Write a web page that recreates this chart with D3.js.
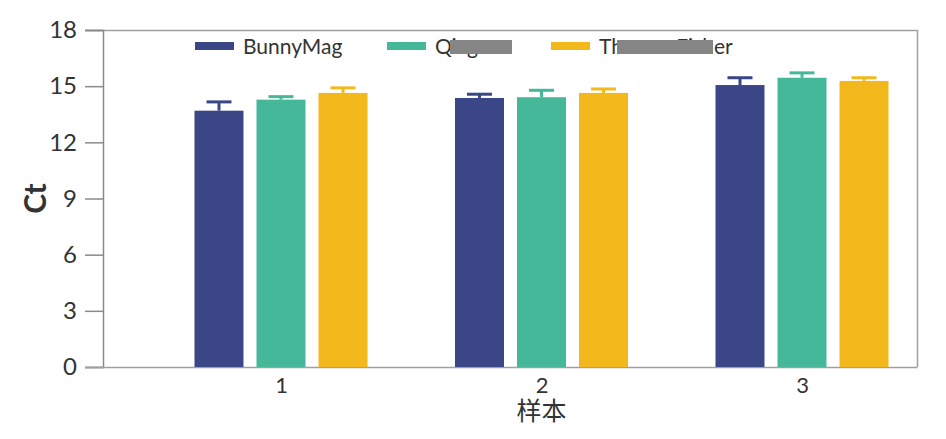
<!DOCTYPE html>
<html>
<head>
<meta charset="utf-8">
<script src="https://cdn.jsdelivr.net/npm/d3@7"></script>
<style>
    body { margin: 0; background: #fff; }
    text { font-family: Lato, "Noto Sans CJK SC", sans-serif; fill: #333; }
</style>
</head>
<body>
<div id="chart"></div>
<script>
// data
const categories = ["1", "2", "3"];
const seriesNames = ["BunnyMag", "Qiagen", "Thermo Fisher"];
const bunnyMag = [13.69, 14.37, 15.06];
const qiagen = [14.28, 14.41, 15.45];
const thermoFisher = [14.64, 14.64, 15.28];
const bunnyMagErr = [0.47, 0.2, 0.39];
const qiagenErr = [0.16, 0.37, 0.26];
const thermoFisherErr = [0.27, 0.21, 0.17];
const yTicks = [0, 3, 6, 9, 12, 15, 18];

const colors = ["#3a4686", "#45b899", "#f3b81b"];

const values = [bunnyMag, qiagen, thermoFisher];
const errors = [bunnyMagErr, qiagenErr, thermoFisherErr];

// flatten into rows for the bars
let rows = [];
categories.forEach((c, i) => {
    seriesNames.forEach((s, j) => {
        rows.push({cat: c, series: s, value: values[j][i], err: errors[j][i], color: colors[j]});
    });
});

const width = 946, height = 439;
const margin = {top: 30, right: 29, bottom: 72, left: 103};

const svg = d3.select("#chart").append("svg")
    .attr("width", width)
    .attr("height", height);

// y scale
const y = d3.scaleLinear()
    .domain([0, 18])
    .range([height - margin.bottom, margin.top]);

// category centres, then bars inside each group
const x0 = d3.scalePoint()
    .domain(categories)
    .range([281, 802]);

const x1 = d3.scaleBand()
    .domain(seriesNames)
    .range([-86.5, 86.5])
    .paddingInner(0.21);

const plotRight = width - margin.right;
const plotBottom = height - margin.bottom;

// frame: top and right border
svg.append("path")
    .attr("d", `M${margin.left - 18},${margin.top + 0.5}H${plotRight + 0.5}V${plotBottom}`)
    .attr("fill", "none")
    .attr("stroke", "#a0a0a0")
    .attr("stroke-width", 1.5);

// y axis
const yAxis = svg.append("g")
    .attr("transform", `translate(${margin.left},0)`)
    .call(d3.axisLeft(y).tickValues(yTicks).tickSize(18).tickPadding(8));
yAxis.select(".domain").attr("stroke", "#8a8a8a").attr("stroke-width", 1.5);
yAxis.selectAll(".tick line").attr("stroke", "#8a8a8a").attr("stroke-width", 1.5);
yAxis.selectAll(".tick text")
    .style("font-size", "24px")
    .style("fill", "#333");

// x axis, no tick marks
const xAxis = svg.append("g")
    .attr("transform", `translate(0,${plotBottom})`)
    .call(d3.axisBottom(x0).tickSize(0).tickPadding(10));
xAxis.select(".domain").remove();
xAxis.selectAll(".tick text")
    .style("font-size", "22px")
    .style("fill", "#333");

svg.append("line")
    .attr("x1", margin.left - 18)
    .attr("x2", plotRight + 0.5)
    .attr("y1", plotBottom + 0.5)
    .attr("y2", plotBottom + 0.5)
    .attr("stroke", "#a0a0a0")
    .attr("stroke-width", 1.5);

// bars
svg.selectAll("rect.bar")
    .data(rows)
    .enter()
    .append("rect")
    .attr("class", "bar")
    .attr("x", d => x0(d.cat) + x1(d.series))
    .attr("y", d => y(d.value))
    .attr("width", x1.bandwidth())
    .attr("height", d => y(0) - y(d.value))
    .attr("fill", d => d.color);

// error bars (upper only)
const capW = 25;
const err = svg.selectAll("g.err")
    .data(rows)
    .enter()
    .append("g")
    .attr("class", "err")
    .attr("stroke", d => d.color)
    .attr("stroke-width", 3);

err.append("line")
    .attr("x1", d => x0(d.cat) + x1(d.series) + x1.bandwidth() / 2)
    .attr("x2", d => x0(d.cat) + x1(d.series) + x1.bandwidth() / 2)
    .attr("y1", d => y(d.value))
    .attr("y2", d => y(d.value + d.err));

err.append("line")
    .attr("x1", d => x0(d.cat) + x1(d.series) + x1.bandwidth() / 2 - capW / 2)
    .attr("x2", d => x0(d.cat) + x1(d.series) + x1.bandwidth() / 2 + capW / 2)
    .attr("y1", d => y(d.value + d.err))
    .attr("y2", d => y(d.value + d.err));

// legend
const legendX = [195, 387, 551];
const legend = svg.selectAll("g.legend")
    .data(seriesNames)
    .enter()
    .append("g")
    .attr("class", "legend")
    .attr("transform", (d, i) => `translate(${legendX[i]},42)`);

legend.append("rect")
    .attr("width", 39)
    .attr("height", 8)
    .attr("fill", (d, i) => colors[i]);

legend.append("text")
    .attr("x", 48)
    .attr("y", 12)
    .style("font-size", "21px")
    .text(d => d);

// grey blocks covering part of two names, as in the reference
const masks = [{x: 450, w: 62}, {x: 617, w: 96}];
svg.selectAll("rect.mask")
    .data(masks)
    .enter()
    .append("rect")
    .attr("class", "mask")
    .attr("x", d => d.x)
    .attr("y", 40)
    .attr("width", d => d.w)
    .attr("height", 14)
    .attr("fill", "#858585");

// axis titles
svg.append("text")
    .attr("transform", `translate(46,${(margin.top + plotBottom) / 2}) rotate(-90)`)
    .attr("text-anchor", "middle")
    .style("font-size", "30px")
    .style("font-weight", "bold")
    .text("Ct");

svg.append("text")
    .attr("x", x0("2"))
    .attr("y", 420)
    .attr("text-anchor", "middle")
    .style("font-size", "25px")
    .text("样本");
</script>
</body>
</html>
